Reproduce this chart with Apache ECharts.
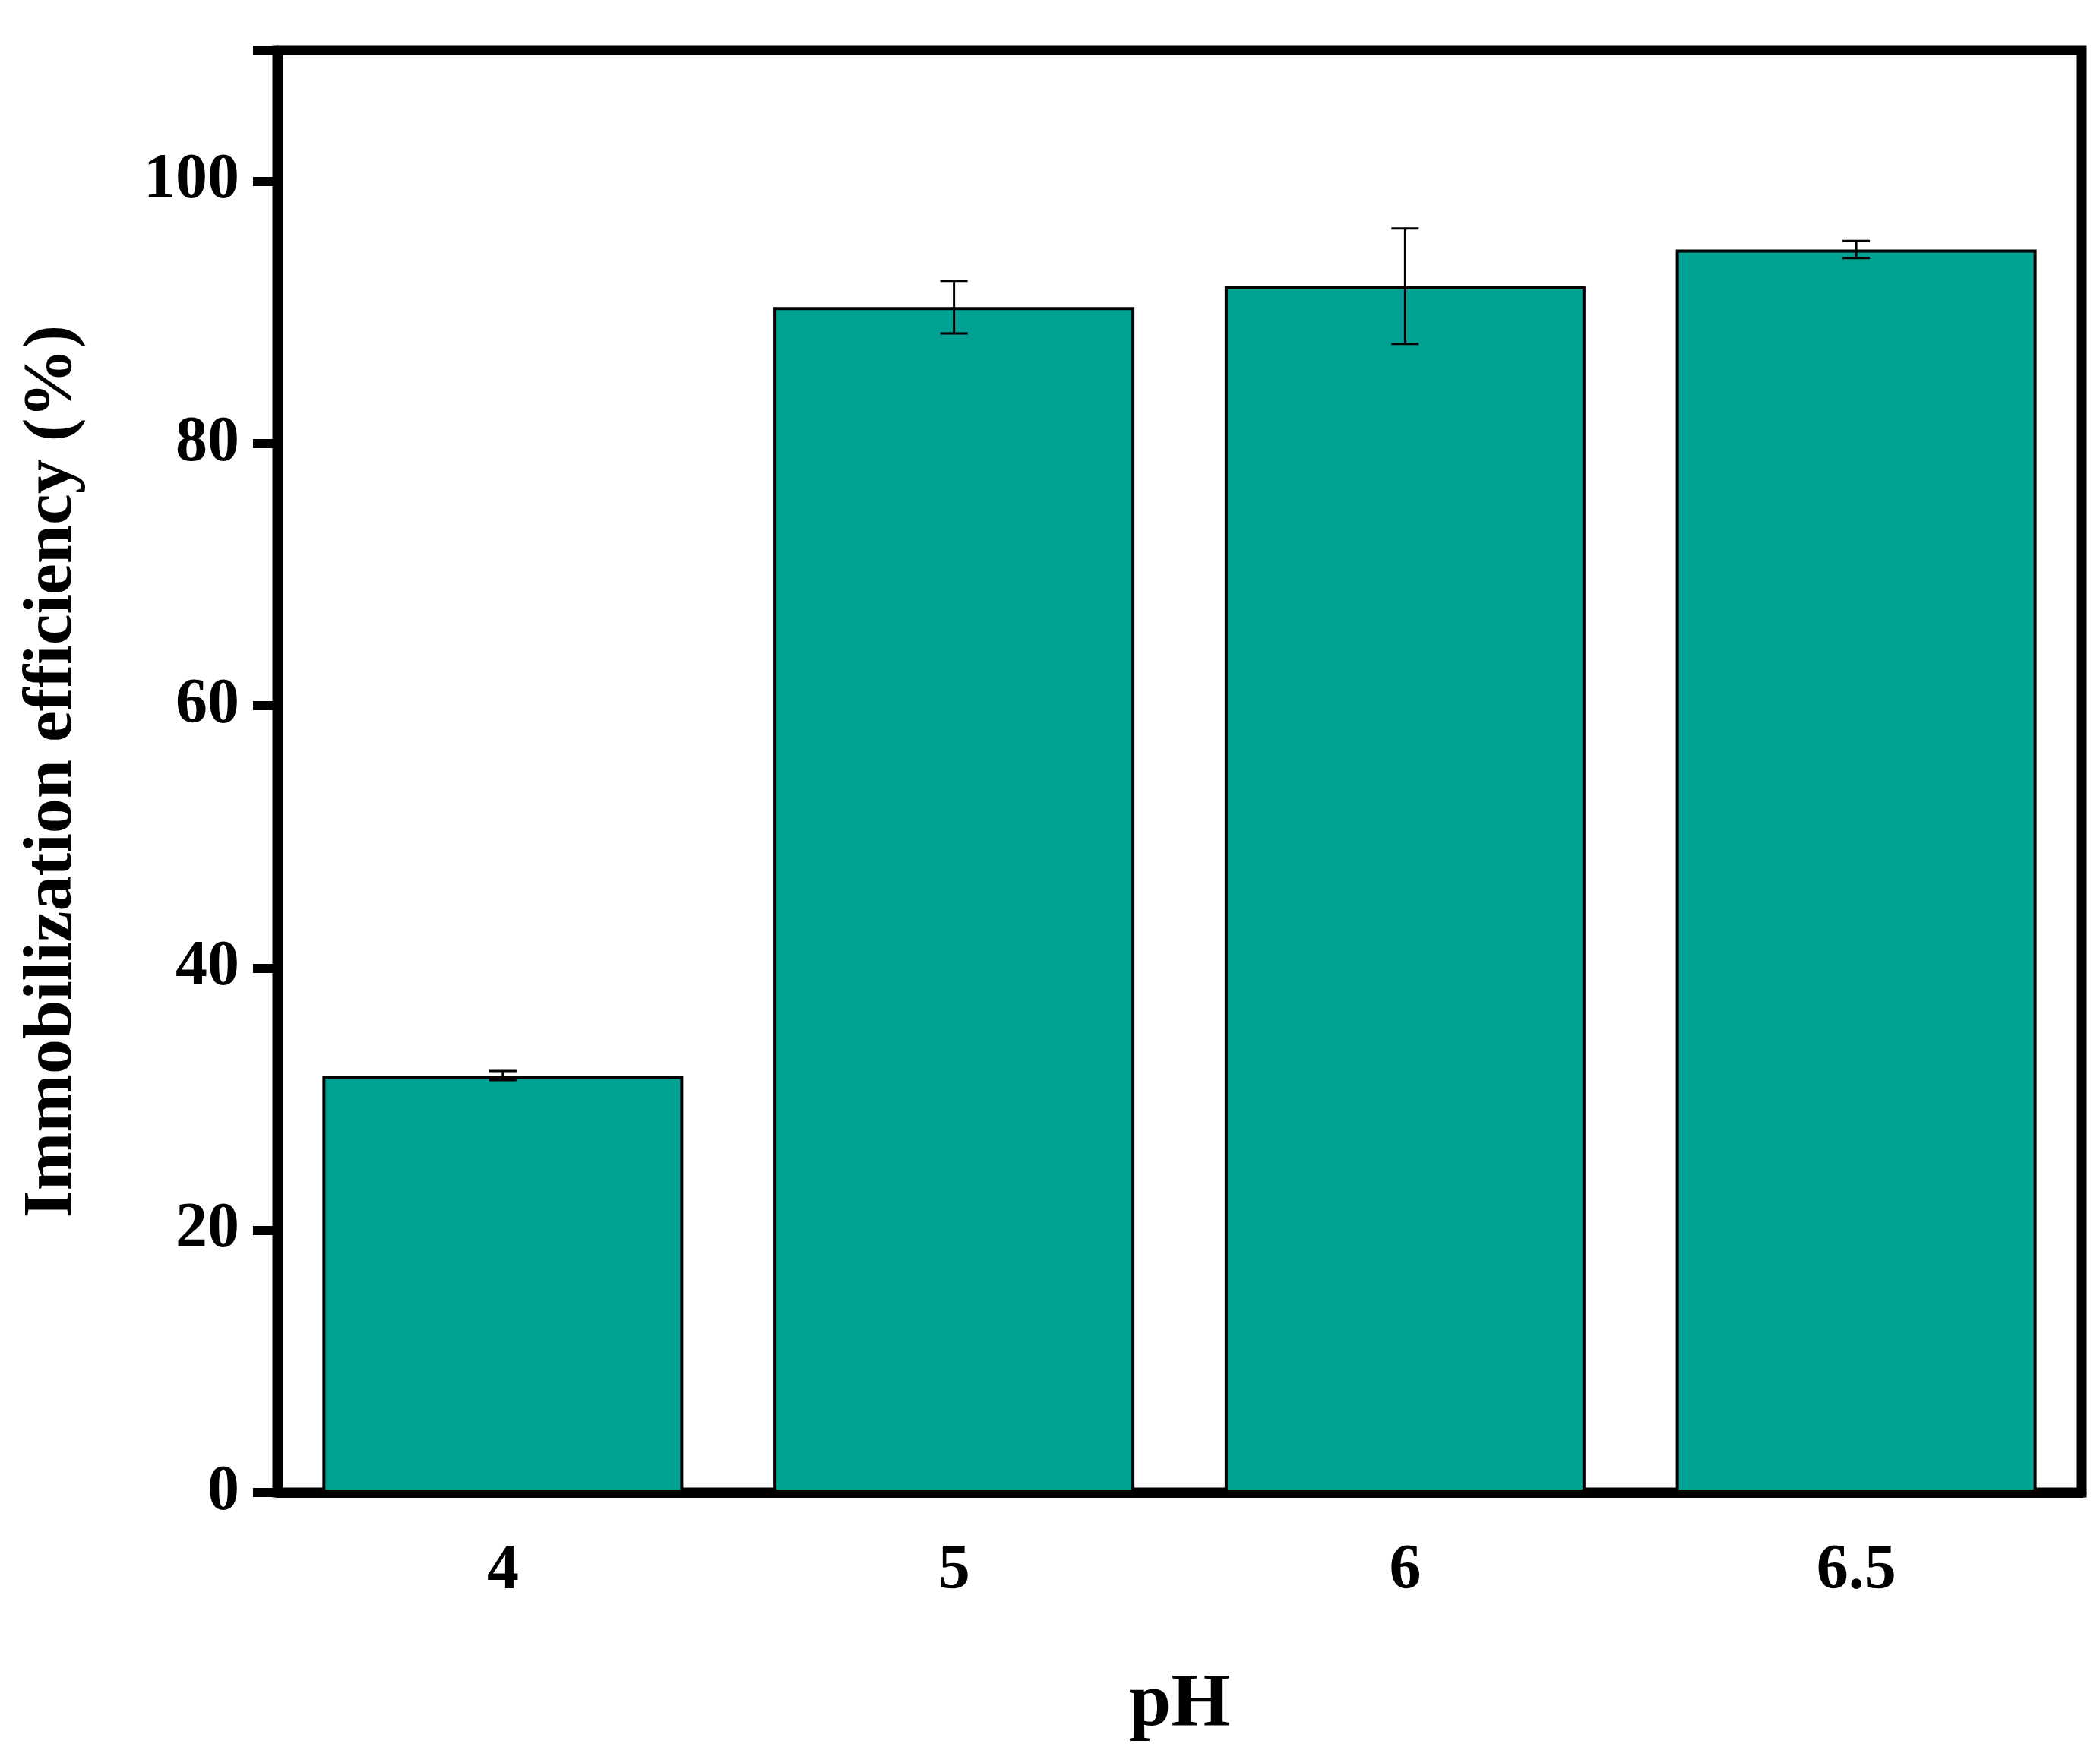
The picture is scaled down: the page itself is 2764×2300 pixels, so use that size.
<!DOCTYPE html>
<html>
<head>
<meta charset="utf-8">
<title>Immobilization efficiency</title>
<script src="https://cdn.jsdelivr.net/npm/echarts@6/dist/echarts.min.js"></script>
<style>
    html, body { margin: 0; padding: 0; background: #fff; }
    #main { width: 2764px; height: 2300px; }
</style>
</head>
<body>
    <div id="main"></div>
</body>
<script>
    var categories = ['4', '5', '6', '6.5'];
    var efficiency = [31.8, 90.4, 92.0, 94.8];
    var errors = [0.35, 2.0, 4.4, 0.65];
    var yTicks = [0, 20, 40, 60, 80, 100];

    var errData = [];
    categories.forEach(function (c, i) {
        errData.push([i, efficiency[i] - errors[i], efficiency[i] + errors[i]]);
    });

    var font = 'Liberation Serif';
    var myChart = echarts.init(document.getElementById('main'));
    var option = {
        animation: false,
        backgroundColor: '#fff',
        grid: {
            left: 365, right: 24, top: 66, bottom: 322,
            show: true, borderColor: '#000', borderWidth: 13
        },
        xAxis: {
            type: 'category',
            data: categories,
            name: 'pH',
            nameLocation: 'middle',
            nameGap: 230,
            nameTextStyle: { fontFamily: font, fontWeight: 'bold', fontSize: 100, color: '#000' },
            axisLine: { lineStyle: { color: '#000', width: 13 } },
            axisTick: { alignWithLabel: true, length: 36, lineStyle: { color: '#000', width: 12 } },
            axisLabel: { margin: 62, fontFamily: font, fontWeight: 'bold', fontSize: 84, color: '#000' }
        },
        yAxis: {
            type: 'value',
            min: 0, max: 110, interval: 20,
            name: 'Immobilization efficiency (%)',
            nameLocation: 'middle',
            nameGap: 250,
            nameTextStyle: { fontFamily: font, fontWeight: 'bold', fontSize: 92, color: '#000' },
            axisLine: { show: true, lineStyle: { color: '#000', width: 13 } },
            axisTick: { show: true, length: 32, lineStyle: { color: '#000', width: 12 } },
            splitLine: { show: false },
            axisLabel: {
                margin: 50, fontFamily: font, fontWeight: 'bold', fontSize: 84, color: '#000',
                formatter: function (v) { return yTicks.indexOf(v) >= 0 ? v : ''; }
            }
        },
        series: [
            {
                type: 'bar',
                data: efficiency,
                barWidth: '80%',
                itemStyle: { color: '#00A293', borderColor: '#000', borderWidth: 4 }
            },
            {
                type: 'custom',
                data: errData,
                z: 10,
                renderItem: function (params, api) {
                    var lo = api.coord([api.value(0), api.value(1)]);
                    var hi = api.coord([api.value(0), api.value(2)]);
                    var hw = 18;
                    var style = { stroke: '#000', lineWidth: 3 };
                    return {
                        type: 'group',
                        children: [
                            { type: 'line', shape: { x1: lo[0], y1: lo[1], x2: hi[0], y2: hi[1] }, style: style },
                            { type: 'line', shape: { x1: lo[0] - hw, y1: lo[1], x2: lo[0] + hw, y2: lo[1] }, style: style },
                            { type: 'line', shape: { x1: hi[0] - hw, y1: hi[1], x2: hi[0] + hw, y2: hi[1] }, style: style }
                        ]
                    };
                }
            }
        ]
    };
    myChart.setOption(option);
</script>
</html>
